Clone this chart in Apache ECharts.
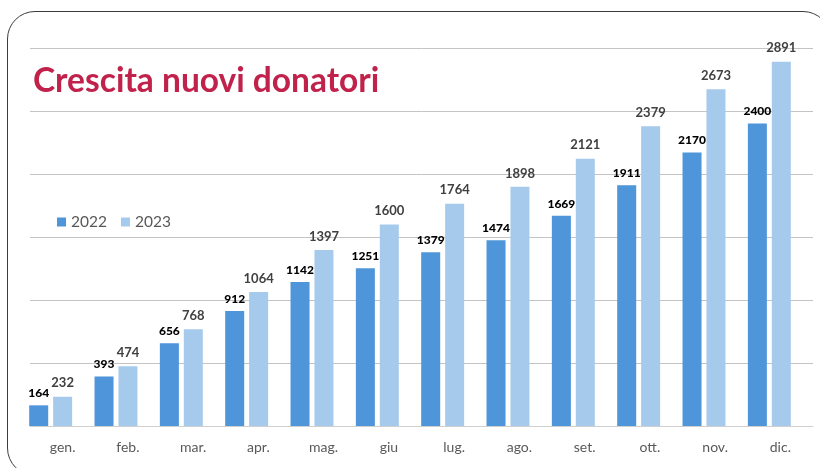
<!DOCTYPE html>
<html>
<head>
<meta charset="utf-8">
<script src="https://cdn.jsdelivr.net/npm/echarts@6.0.0/dist/echarts.min.js"></script>
<style>
  html, body { margin: 0; padding: 0; background: #fff; overflow: hidden; }
  .card {
    position: absolute; left: 7px; top: 11px; width: 824px; height: 465px;
    box-sizing: border-box; border: 1.5px solid #3c3c3c; border-radius: 28px;
  }
  #chart { position: absolute; left: 0; top: 0; width: 820px; height: 468px; }
</style>
</head>
<body>
<div class="card"></div>
<div id="chart"></div>
<script>
// mesi e valori
const mesi = ['gen.', 'feb.', 'mar.', 'apr.', 'mag.', 'giu', 'lug.', 'ago.', 'set.', 'ott.', 'nov.', 'dic.'];
const donatori2022 = [164, 393, 656, 912, 1142, 1251, 1379, 1474, 1669, 1911, 2170, 2400];
const donatori2023 = [232, 474, 768, 1064, 1397, 1600, 1764, 1898, 2121, 2379, 2673, 2891];
const yMax = 3000;
const yStep = 500;

const font = 'Lato, "Open Sans", sans-serif';
const chart = echarts.init(document.getElementById('chart'));

const option = {
  animation: false,
  textStyle: { fontFamily: font },
  title: {
    text: 'Crescita nuovi donatori',
    left: 28, top: 59,
    textStyle: { fontSize: 33.5, fontWeight: 'bold', color: '#C1224B', fontFamily: font }
  },
  legend: {
    data: ['2022', '2023'],
    left: 52, top: 209,
    icon: 'rect', itemWidth: 9, itemHeight: 9, itemGap: 14,
    textStyle: { fontSize: 15.5, color: '#595959', fontFamily: font }
  },
  grid: [
    // barre
    { left: 18, right: 18, top: 48, bottom: 42 },
    // griglia e etichette (spostate a destra come nell'originale)
    { left: 30, right: 7, top: 48, bottom: 42 }
  ],
  xAxis: [
    { type: 'category', gridIndex: 0, data: mesi, show: false },
    {
      type: 'category', gridIndex: 1, data: mesi,
      axisLine: { lineStyle: { color: '#cfcfcf', width: 1 } },
      axisTick: { show: false },
      axisLabel: { color: '#595959', fontSize: 14, margin: 14, fontFamily: font }
    }
  ],
  yAxis: [
    { type: 'value', gridIndex: 0, min: 0, max: yMax, interval: yStep, show: false },
    {
      type: 'value', gridIndex: 1, min: 0, max: yMax, interval: yStep,
      axisLine: { show: false }, axisTick: { show: false }, axisLabel: { show: false },
      splitLine: { lineStyle: { color: '#c4c4c4', width: 1 } }
    }
  ],
  series: [
    {
      name: '2022', type: 'bar', xAxisIndex: 0, yAxisIndex: 0,
      data: donatori2022,
      barWidth: 19, barGap: '26%',
      itemStyle: { color: '#4E95D9' },
      label: {
        show: true, position: 'top', distance: 6,
        color: '#000', fontSize: 12, fontWeight: 900, fontFamily: font
      }
    },
    {
      name: '2023', type: 'bar', xAxisIndex: 0, yAxisIndex: 0,
      data: donatori2023,
      barWidth: 19,
      itemStyle: { color: '#A6CAEC' },
      label: {
        show: true, position: 'top', distance: 7,
        color: '#404040', fontSize: 13, fontWeight: 'bold', fontFamily: font
      }
    }
  ]
};

chart.setOption(option);
</script>
</body>
</html>
